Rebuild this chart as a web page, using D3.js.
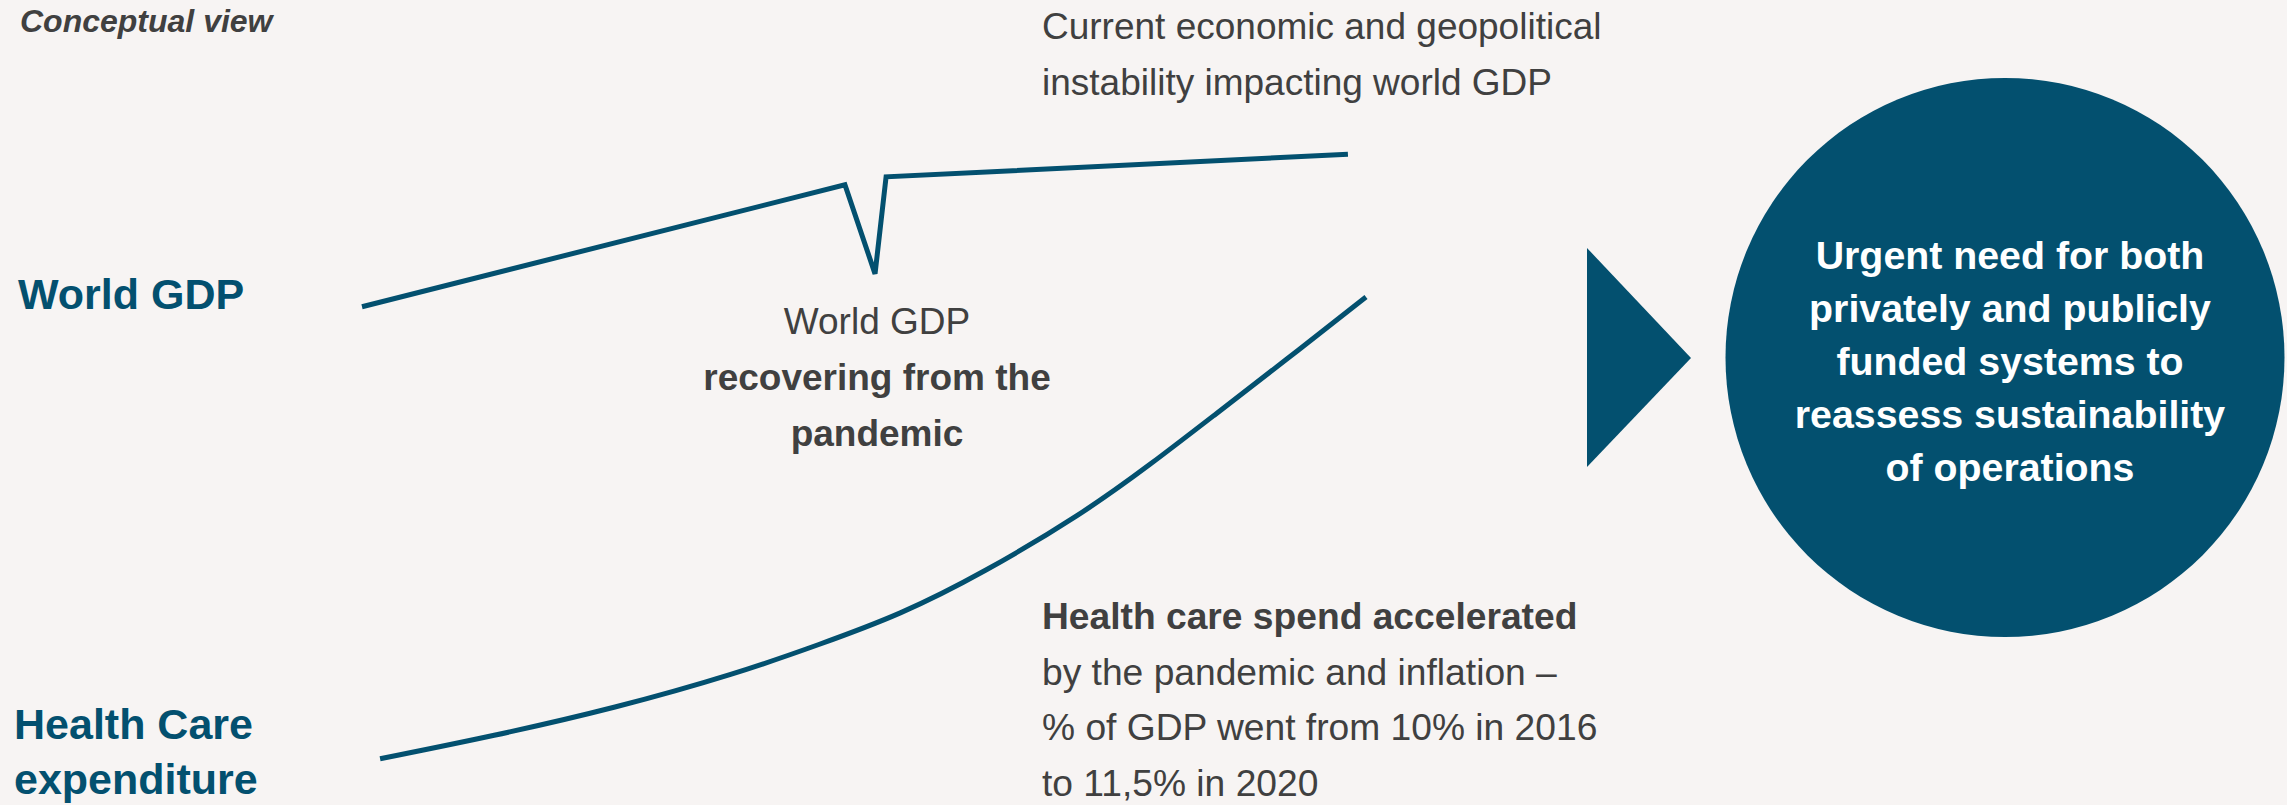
<!DOCTYPE html>
<html><head><meta charset="utf-8">
<script src="https://cdn.jsdelivr.net/npm/d3@7"></script>
<style>
html,body{margin:0;padding:0;background:#f7f4f3;overflow:hidden}
svg{display:block}
text{font-family:"Liberation Sans",Arial,Helvetica,sans-serif}
</style>
</head><body>
<svg id="chart" width="2287" height="805"></svg>
<script>
// ---- data (conceptual index values) ----
const seriesNames = ["World GDP", "Health Care expenditure"];
const gdpX = [0, 48.1, 51.1, 52.2, 98.2];
const gdpY = [74.3, 94.3, 79.7, 95.6, 99.3];
const healthX = [1.8, 13.0, 25.2, 37.4, 45.5, 53.6, 61.8, 71.8, 78.5, 85.1, 91.8, 100];
const healthY = [0.2, 3.9, 8.5, 14.2, 18.9, 23.8, 30.6, 40.4, 48.4, 56.8, 65.3, 75.9];

const titleText = "Conceptual view";
const gdpLabel = ["World GDP"];
const healthLabel = ["Health Care", "expenditure"];
const topNote = ["Current economic and geopolitical", "instability impacting world GDP"];
const dipNote = [["World GDP", false], ["recovering from the", true], ["pandemic", true]];
const healthNote = [["Health care spend accelerated", true], ["by the pandemic and inflation \u2013", false], ["% of GDP went from 10% in 2016", false], ["to 11,5% in 2020", false]];
const circleText = ["Urgent need for both", "privately and publicly", "funded systems to", "reassess sustainability", "of operations"];

// ---- styles ----
const TEAL = "#03506f";
const GRAY = "#404040";

const svg = d3.select("#chart");
svg.append("rect").attr("width", 2287).attr("height", 805).attr("fill", "#f7f4f3");

const x = d3.scaleLinear().domain([0, 100]).range([362, 1366]);
const y = d3.scaleLinear().domain([0, 100]).range([760, 150]);

const gdp = gdpX.map((v, i) => [v, gdpY[i]]);
const health = healthX.map((v, i) => [v, healthY[i]]);

svg.append("path")
  .attr("d", d3.line().x(d => x(d[0])).y(d => y(d[1])).curve(d3.curveLinear)(gdp))
  .attr("fill", "none").attr("stroke", TEAL).attr("stroke-width", 5)
  .attr("stroke-linejoin", "miter").attr("stroke-miterlimit", 2);

svg.append("path")
  .attr("d", d3.line().x(d => x(d[0])).y(d => y(d[1])).curve(d3.curveBasis)(health))
  .attr("fill", "none").attr("stroke", TEAL).attr("stroke-width", 5);

// title
svg.append("text").attr("x", 20).attr("y", 32).text(titleText)
  .attr("font-size", 32).attr("font-weight", "bold").attr("font-style", "italic").attr("fill", GRAY);

// series labels
svg.append("text").attr("x", 18).attr("y", 309).text(gdpLabel[0])
  .attr("font-size", 43).attr("font-weight", "bold").attr("fill", TEAL);
healthLabel.forEach((t, i) => {
  svg.append("text").attr("x", 14).attr("y", 739 + i * 55).text(t)
    .attr("font-size", 43).attr("font-weight", "bold").attr("fill", TEAL);
});

// annotations
topNote.forEach((t, i) => {
  svg.append("text").attr("x", 1042).attr("y", 39 + i * 56).text(t)
    .attr("font-size", 37).attr("fill", GRAY);
});
dipNote.forEach((d, i) => {
  svg.append("text").attr("x", 877).attr("y", 334 + i * 56).text(d[0])
    .attr("text-anchor", "middle")
    .attr("font-size", 37).attr("font-weight", d[1] ? "bold" : "normal").attr("fill", GRAY);
});
healthNote.forEach((d, i) => {
  svg.append("text").attr("x", 1042).attr("y", 629 + i * 55.5).text(d[0])
    .attr("font-size", 37.2).attr("font-weight", d[1] ? "bold" : "normal").attr("fill", GRAY);
});

// arrow triangle
svg.append("path")
  .attr("d", d3.line()([[1587, 248], [1691, 358], [1587, 467]]) + "Z")
  .attr("fill", TEAL);

// circle
const cx = 2005, cy = 357.5, r = 279.5;
svg.append("circle").attr("cx", cx).attr("cy", cy).attr("r", r).attr("fill", TEAL);
circleText.forEach((t, i) => {
  svg.append("text").attr("x", cx + 5).attr("y", 269 + i * 53).text(t)
    .attr("text-anchor", "middle").attr("font-size", 39.3).attr("font-weight", "bold").attr("fill", "#ffffff");
});
</script>
</body></html>
